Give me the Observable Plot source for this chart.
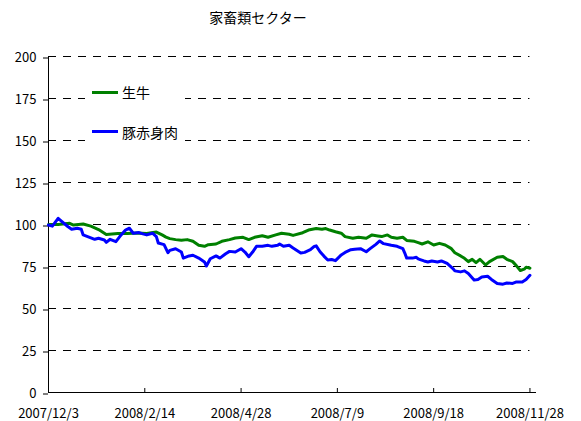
<!DOCTYPE html>
<html>
<head>
<meta charset="utf-8">
<script src="https://cdn.jsdelivr.net/npm/d3@7"></script>
<script src="https://cdn.jsdelivr.net/npm/@observablehq/plot@0.6"></script>
<style>
  html, body { margin: 0; padding: 0; background: white; }
  #wrap { position: relative; width: 581px; height: 421px; font-family: "Noto Sans CJK JP", sans-serif; color: black; }
  #title { position: absolute; top: 10px; left: 158px; width: 200px; text-align: center; font-size: 14px; line-height: 14px; }
  #legend { position: absolute; left: 85px; top: 78px; width: 100px; height: 66px; background: white; }
  .sw { position: absolute; left: 7px; width: 26px; height: 3px; }
  .lt { position: absolute; left: 37px; font-size: 14px; line-height: 14px; white-space: nowrap; }
</style>
</head>
<body>
<div id="wrap">
  <div id="chart"></div>
  <div id="title">家畜類セクター</div>
  <div id="legend">
    <div class="sw" style="top:12.5px;background:#008000"></div>
    <div class="lt" style="top:7px">生牛</div>
    <div class="sw" style="top:51.5px;background:#0000ff"></div>
    <div class="lt" style="top:46.5px">豚赤身肉</div>
  </div>
</div>
<script>
// x positions are trading-day indexes (tick every 50 trading days)
const xTickIdx = [0, 50, 100, 150, 200, 250];
const xTickLabels = ["2007/12/3", "2008/2/14", "2008/4/28", "2008/7/9", "2008/9/18", "2008/11/28"];
const yTicks = [0, 25, 50, 75, 100, 125, 150, 175, 200];
const xMax = 253.4;

const seriesNames = ["生牛", "豚赤身肉"];

const cattleIdx = [0,5,11,13,18,22,26,30,36,41,46,51,56,59,61,63,66,69,72,75,78,81,83,87,90,94,97,101,104,107,111,114,118,121,125,127,132,135,139,142,144,146,149,152,154,158,161,165,168,171,173,176,178,181,184,186,190,192,194,197,200,203,206,209,211,214,216,218,220,222,224,227,229,233,236,238,241,243,245,247,248,250];
const cattleVal = [100,100,100.7,99.7,100.3,99,97,94,94.6,94.6,95,94.6,95.5,93.8,92.5,91.6,91,90.6,91,90,87.6,87,88,88.4,90,91,92,92.4,91,92.4,93.3,92.4,93.8,94.8,94.2,93.5,95.1,96.7,97.6,97.2,97.6,96.7,95.7,94.8,92.8,91.8,92.4,91.8,93.8,93.2,92.8,93.8,92.4,91.8,92.4,90.5,90,89.2,88.4,89.7,87.8,88.8,87.8,85.8,83.2,81.3,79.9,77.9,79.3,77.3,79.3,75.9,77.9,80.5,80.9,79.3,77.9,75.4,72.6,73.4,74.6,74];

const hogIdx = [0,2,5,7,10,12,15,17,18,21,24,26,29,30,32,35,37,40,42,44,47,49,51,54,56,57,60,62,63,66,69,70,73,75,78,81,82,84,87,89,92,94,97,100,102,104,106,108,111,114,116,119,120,122,125,127,128,131,133,136,138,139,141,143,145,147,149,152,154,157,159,162,165,167,170,172,174,178,181,184,185,186,189,191,192,193,195,197,199,202,204,207,210,211,214,216,218,221,223,225,228,230,233,236,238,241,243,246,248,250];
const hogVal = [99.7,99,103.7,101.7,98.8,97.2,97.8,97.2,93.8,92.5,91.2,91.8,90.8,89.4,91.2,89.8,92.8,96.7,97.8,94.8,95.2,94.4,93.8,94.8,92.8,89,88,83.2,84.6,85.6,83.6,80,81.3,81.7,80,77.7,75.3,79.6,81.3,80,82.6,84,83.6,85.6,83.6,80.8,83.6,87,87,87.6,87,87.6,88.4,87,87.6,86,85.3,83,83.4,85,87,87.3,83.8,81.2,78.9,79.2,78.5,81.9,83.4,85,85.3,85.6,83.8,85.6,88.2,90.2,88.6,87.6,87,85.6,83,80,80,80.5,79.5,79.1,78.3,77.7,78.3,77.7,78.3,76.8,73.8,72.4,71.8,72.4,70.8,66.9,67.3,68.8,69.2,67.3,64.9,64.5,65.2,64.9,65.8,65.8,67.3,69.8];

const cattle = cattleIdx.map((x, i) => ({x, y: cattleVal[i], s: seriesNames[0]}));
const hog = hogIdx.map((x, i) => ({x, y: hogVal[i], s: seriesNames[1]}));
const lastIdx = Math.max(cattleIdx[cattleIdx.length - 1], hogIdx[hogIdx.length - 1]);

const chart = Plot.plot({
  width: 581,
  height: 421,
  marginLeft: 48,
  marginRight: 45,
  marginTop: 56,
  marginBottom: 29,
  style: {fontFamily: "'Noto Sans CJK JP', sans-serif", fontSize: "13px", background: "white", color: "black"},
  x: {domain: [0, xMax], label: null},
  y: {domain: [0, 200], label: null},
  marks: [
    Plot.ruleY(yTicks.filter(v => v > 0), {x1: 0, x2: lastIdx, stroke: "black", strokeWidth: 1, strokeDasharray: "8,7"}),
    Plot.ruleX([0], {stroke: "black"}),
    Plot.ruleY([0], {stroke: "black"}),
    Plot.axisY({ticks: yTicks, label: null, tickSize: 5, tickPadding: 7, dy: 1.5, fontSize: 13, tickFormat: d => String(d)}),
    Plot.axisX({ticks: xTickIdx, label: null, tickSize: 4, dy: -4, tickFormat: () => ""}),
    Plot.axisX({ticks: xTickIdx, label: null, tickSize: 0, tickPadding: 16, fontSize: 13, tickFormat: d => xTickLabels[xTickIdx.indexOf(d)]}),
    Plot.line(cattle, {x: "x", y: "y", stroke: "#008000", strokeWidth: 3}),
    Plot.line(hog, {x: "x", y: "y", stroke: "#0000ff", strokeWidth: 3})
  ]
});
document.getElementById("chart").appendChild(chart);
</script>
</body>
</html>
